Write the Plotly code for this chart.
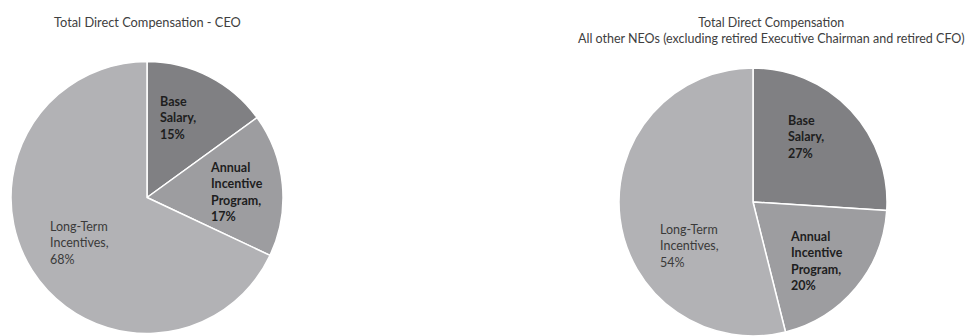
import plotly.graph_objects as go

W, H = 969, 336

# ---- data ----
categories = ["Base Salary", "Annual Incentive Program", "Long-Term Incentives"]
ceo_values = [15, 17, 68]
ceo_pct_labels = ["15%", "17%", "68%"]
neo_values = [26, 20.1, 53.9]
neo_pct_labels = ["27%", "20%", "54%"]
titles = ["Total Direct Compensation - CEO",
          "Total Direct Compensation<br>All other NEOs (excluding retired Executive Chairman and retired CFO)"]

# ---- styles ----
slice_colors = ["#808083", "#9d9da0", "#b2b2b5"]
label_bold = [True, True, False]
FONT = "Lato"


def px_x(x):
    return x / W


def px_y(y):
    return 1 - y / H


fig = go.Figure()

# pie 1 (CEO)
fig.add_trace(go.Pie(
    labels=categories, values=ceo_values, sort=False, direction="clockwise", rotation=0,
    marker=dict(colors=slice_colors, line=dict(color="white", width=1.5)),
    textinfo="none", hoverinfo="label+percent", showlegend=False,
    domain=dict(x=[px_x(11), px_x(283)], y=[px_y(333.5), px_y(61.5)]),
))

# pie 2 (other NEOs)
fig.add_trace(go.Pie(
    labels=categories, values=neo_values, sort=False, direction="clockwise", rotation=0,
    marker=dict(colors=slice_colors, line=dict(color="white", width=1.5)),
    textinfo="none", hoverinfo="label+percent", showlegend=False,
    domain=dict(x=[px_x(619), px_x(887)], y=[0, px_y(68)]),
))


def label_text(cat, pct):
    words = cat.split(" ")
    if cat.startswith("Long-Term"):
        words = ["Long-Term", "Incentives"]
    return "<br>".join(words) + ",<br>" + pct


# label positions (left x, block centre y) in pixels
ceo_label_pos = [(158, 118), (208, 191.5), (48, 242.5)]
neo_label_pos = [(786, 137), (788, 260.5), (658, 245.5)]

annotations = []
for pos_list, pcts in ((ceo_label_pos, ceo_pct_labels), (neo_label_pos, neo_pct_labels)):
    for (lx, ly), cat, pct, bold in zip(pos_list, categories, pcts, label_bold):
        txt = label_text(cat, pct)
        if bold:
            txt = "<b>" + txt.replace("<br>", "</b><br><b>") + "</b>"
        annotations.append(dict(
            x=px_x(lx), y=px_y(ly), xref="paper", yref="paper",
            xanchor="left", yanchor="middle", align="left", showarrow=False,
            text=txt,
            font=dict(family=FONT, size=12.5, color="#1e1e1e" if bold else "#3a3a3a"),
        ))

annotations.append(dict(
    x=px_x(147), y=px_y(22), xref="paper", yref="paper", xanchor="center", yanchor="middle",
    showarrow=False, text=titles[0], font=dict(family=FONT, size=12.8, color="#404040"),
))
annotations.append(dict(
    x=px_x(771), y=px_y(30.5), xref="paper", yref="paper", xanchor="center", yanchor="middle",
    showarrow=False, text=titles[1], align="center",
    font=dict(family=FONT, size=12.5, color="#404040"),
))

fig.update_layout(
    width=W, height=H, margin=dict(l=0, r=0, t=0, b=0),
    paper_bgcolor="white", plot_bgcolor="white",
    annotations=annotations,
)

fig.write_html("out.html")
